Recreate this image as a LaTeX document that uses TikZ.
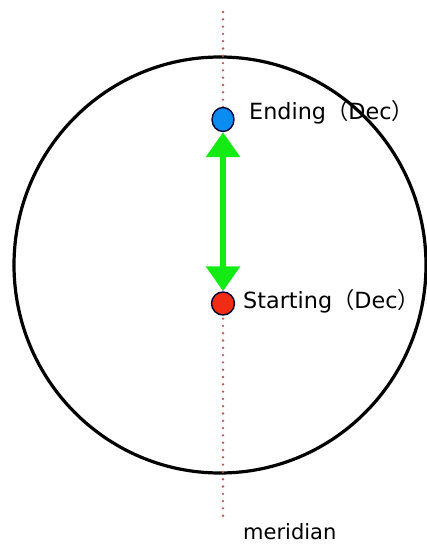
\documentclass[tikz,border=0pt]{standalone}
\usepackage{fontspec}
\setmainfont{DejaVu Sans}
\newfontfamily\cjk{Noto Sans CJK SC}
\usetikzlibrary{arrows.meta,shapes.geometric}
\definecolor{meridred}{RGB}{195,85,85}
\definecolor{dotblue}{RGB}{10,140,240}
\definecolor{dotred}{RGB}{240,45,20}
\definecolor{arrgreen}{RGB}{20,235,20}
\tikzset{
  dotnode/.style={ellipse, draw=black!80!blue, line width=1.4pt, minimum width=23pt, minimum height=23pt, inner sep=0pt},
  lbl/.style={anchor=base west, inner sep=0pt, font=\fontsize{22.3}{26}\selectfont},
  bigarrow/.style={draw=arrgreen, line width=6.5pt, {Triangle[width=33pt,length=25pt,fill=arrgreen]}-{Triangle[width=33pt,length=25pt,fill=arrgreen]}}
}
\begin{document}
\begin{tikzpicture}[x=1pt,y=-1pt]
\useasboundingbox (0,0) rectangle (426,545);
\draw[line width=3.2pt] (220,265) ellipse [x radius=206, y radius=208];
\coordinate (mtop) at (223,12);
\coordinate (mbot) at (223,522);
\draw[meridred, line width=2.6pt, line cap=round, dash pattern=on 0pt off 7.3pt] (mtop) -- (mbot);
\node[dotnode, fill=dotblue, minimum width=22pt, minimum height=24pt] (end) at (223,119.5) {};
\node[dotnode, fill=dotred] (start) at (223,303.5) {};
\draw[bigarrow] (end.south) -- (start.north);
\node[lbl] (endlbl) at (249,119.3) {Ending{\cjk （}Dec{\cjk ）}};
\node[lbl] (startlbl) at (243,308.5) {Starting{\cjk （}Dec{\cjk ）}};
\node[lbl, font=\fontsize{21}{25}\selectfont] (merid) at (243,539.5) {meridian};
\end{tikzpicture}
\end{document}
